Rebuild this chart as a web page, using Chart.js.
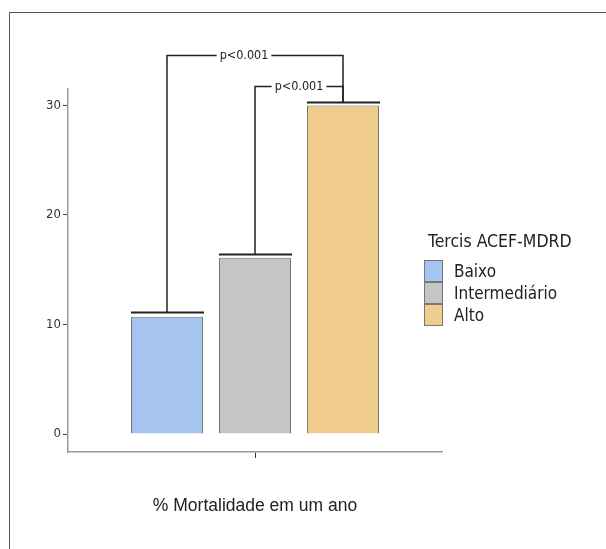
<!DOCTYPE html>
<html lang="pt">
<head>
  <meta charset="UTF-8" />
  <title>Mortalidade por tercis ACEF-MDRD</title>
  <script src="https://cdn.jsdelivr.net/npm/chart.js"></script>
  <style>
    :root {
      --narrow: 'Liberation Sans Narrow', 'DejaVu Sans Condensed', sans-serif;
    }
    html, body {
      margin: 0;
      padding: 0;
      background: #fff;
    }
    #wrap {
      position: relative;
      width: 606px;
      height: 549px;
      overflow: hidden;
    }
    #frame {
      position: absolute;
      left: 9px;
      top: 12px;
      right: -10px;
      bottom: -10px;
      border-left: 1.5px solid #555;
      border-top: 1.5px solid #555;
      pointer-events: none;
    }
    #legend {
      position: absolute;
      left: 424px;
      top: 229px;
      font-family: var(--narrow);
      color: #222;
    }
    #legend .title {
      font-size: 17.5px;
      margin-left: 4px;
      margin-bottom: 7px;
      line-height: 24px;
    }
    #legend .item {
      display: flex;
      align-items: center;
      height: 22px;
      font-size: 17px;
    }
    #legend .box {
      width: 17px;
      height: 20px;
      border: 1px solid #777;
      margin-right: 11px;
    }
  </style>
</head>
<body>
  <div id="wrap">
    <canvas id="chart" width="606" height="549"></canvas>
    <div id="frame"></div>
    <div id="legend"></div>
  </div>

  <script>
    // data
    const labels = [''];
    const xTitle = '% Mortalidade em um ano';
    const legendTitle = 'Tercis ACEF-MDRD';
    const groups = ['Baixo', 'Intermediário', 'Alto'];
    const mortality = [10.7, 16.1, 30.0];
    const capTop = [11.1, 16.4, 30.3];
    const colors = ['#a6c4f0', '#c5c5c5', '#f0cd8d'];
    const yTicks = [0, 10, 20, 30];

    // significance brackets
    const cmpFrom = [0, 1];
    const cmpTo = [2, 2];
    const cmpHeight = [34.6, 31.8];
    const cmpLabel = ['p<0.001', 'p<0.001'];

    const narrow = "'Liberation Sans Narrow', 'DejaVu Sans Condensed', sans-serif";
    Chart.defaults.font.family = narrow;
    Chart.defaults.color = '#333';

    // legend (html)
    const legend = document.getElementById('legend');
    legend.innerHTML = `<div class="title">${legendTitle}</div>` +
      groups.map((g, i) => `
        <div class="item"><span class="box" style="background:${colors[i]}"></span>${g}</div>
      `).join('');

    const annotations = {
      id: 'annotations',
      afterDatasetsDraw(chart) {
        const ctx = chart.ctx;
        const y = chart.scales.y;
        const bars = groups.map((g, i) => chart.getDatasetMeta(i).data[0]);

        ctx.save();
        ctx.strokeStyle = '#222';

        // caps above the bars
        ctx.lineWidth = 2;
        bars.forEach((b, i) => {
          const cy = Math.round(y.getPixelForValue(capTop[i])) + 0.5;
          ctx.beginPath();
          ctx.moveTo(b.x - b.width / 2, cy);
          ctx.lineTo(b.x + b.width / 2 + 1, cy);
          ctx.stroke();
        });

        // brackets
        ctx.lineWidth = 1.5;
        ctx.font = '12.5px ' + narrow;
        ctx.textAlign = 'center';
        ctx.textBaseline = 'middle';
        ctx.fillStyle = '#222';
        cmpHeight.forEach((h, k) => {
          const a = bars[cmpFrom[k]], b = bars[cmpTo[k]];
          const by = Math.round(y.getPixelForValue(h)) + 0.5;
          const ya = y.getPixelForValue(capTop[cmpFrom[k]]);
          const yb = y.getPixelForValue(capTop[cmpTo[k]]);
          // the wide bracket has its label a bit left of centre
          const mid = (a.x + b.x) / 2 - (cmpTo[k] - cmpFrom[k] > 1 ? 11 : 0);
          const half = ctx.measureText(cmpLabel[k]).width / 2 + 3;

          ctx.beginPath();
          ctx.moveTo(a.x, ya);
          ctx.lineTo(a.x, by);
          ctx.lineTo(mid - half, by);
          ctx.moveTo(mid + half, by);
          ctx.lineTo(b.x, by);
          ctx.lineTo(b.x, yb);
          ctx.stroke();
          ctx.fillText(cmpLabel[k], mid, by);
        });
        ctx.restore();
      }
    };

    new Chart(document.getElementById('chart'), {
      type: 'bar',
      data: {
        labels: labels,
        datasets: groups.map((g, i) => ({
          label: g,
          data: [mortality[i]],
          backgroundColor: colors[i],
          borderColor: '#777',
          borderWidth: 1
        }))
      },
      options: {
        responsive: false,
        animation: false,
        layout: { padding: { left: 0, right: 164, top: 89, bottom: 0 } },
        datasets: {
          bar: { categoryPercentage: 0.706, barPercentage: 0.818 }
        },
        plugins: {
          legend: { display: false },
          tooltip: { enabled: false }
        },
        scales: {
          x: {
            grid: {
              display: true,
              offset: false,
              drawOnChartArea: false,
              drawTicks: true,
              tickLength: 6,
              color: '#333'
            },
            border: { color: '#999', width: 1.5 },
            ticks: { display: false },
            title: {
              display: true,
              text: xTitle,
              font: { size: 17.5, family: "'Liberation Sans', Arial, sans-serif" },
              color: '#222',
              padding: { top: 0, bottom: 32 }
            },
            afterFit(scale) { scale.height = 97; }
          },
          y: {
            min: -1.64,
            max: 31.5,
            afterBuildTicks(scale) {
              scale.ticks = yTicks.map(v => ({ value: v }));
            },
            grid: {
              display: true,
              drawOnChartArea: false,
              drawTicks: true,
              tickLength: 5,
              color: '#444'
            },
            border: { color: '#999', width: 1.5 },
            ticks: {
              font: { size: 13 },
              color: '#333',
              padding: 2
            },
            afterFit(scale) { scale.width = 68; }
          }
        }
      },
      plugins: [annotations]
    });
  </script>
</body>
</html>
